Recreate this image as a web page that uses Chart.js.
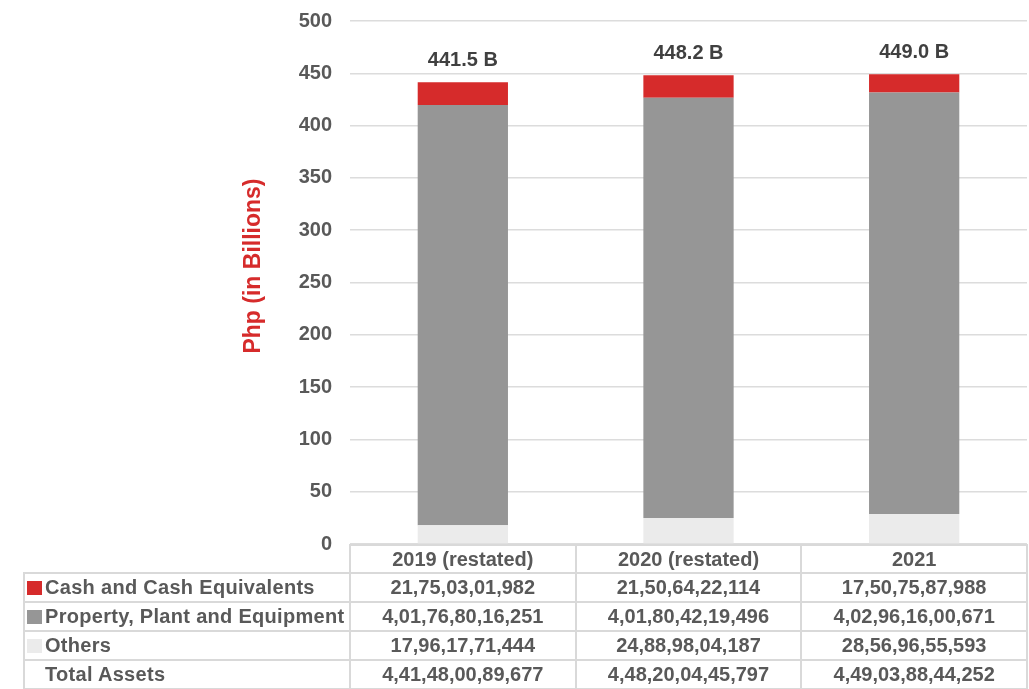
<!DOCTYPE html>
<html><head><meta charset="utf-8">
<script src="https://cdn.jsdelivr.net/npm/chart.js@4/dist/chart.umd.min.js"></script>
<style>
html,body{margin:0;padding:0;background:#fff;}
#wrap{position:relative;width:1029px;height:689px;overflow:hidden;font-family:"Liberation Sans",Arial,sans-serif;}
canvas{position:absolute;left:0;top:0;}
.ln{position:absolute;background:#d9d9d9;}
.cell{position:absolute;font-weight:bold;font-size:20px;color:#595959;white-space:nowrap;display:flex;align-items:center;box-sizing:border-box;}
.name{letter-spacing:0.3px;}
.key{display:inline-block;width:15px;height:14px;margin-right:3px;flex:none;}
</style></head><body>
<div id="wrap"><canvas id="c" width="1029" height="689"></canvas></div>
<script>
const categories = ['2019 (restated)', '2020 (restated)', '2021'];
const seriesNames = ['Cash and Cash Equivalents', 'Property, Plant and Equipment', 'Others'];
const cashValues = [21.7503, 21.5064, 17.5076];
const ppeValues = [401.7680, 401.8042, 402.9616];
const othersValues = [17.9618, 24.8898, 28.5697];
const cashLabels = ['21,75,03,01,982', '21,50,64,22,114', '17,50,75,87,988'];
const ppeLabels = ['4,01,76,80,16,251', '4,01,80,42,19,496', '4,02,96,16,00,671'];
const othersLabels = ['17,96,17,71,444', '24,88,98,04,187', '28,56,96,55,593'];
const totalName = 'Total Assets';
const totalLabels = ['4,41,48,00,89,677', '4,48,20,04,45,797', '4,49,03,88,44,252'];
const yMin = 0, yMax = 500, yStep = 50;
const yTitle = 'Php (in Billions)';

const colors = {cash: '#D62B2B', ppe: '#969696', others: '#EBEBEB'};
const FONT = '"Liberation Sans", Arial, sans-serif';

const totalLabelPlugin = {
  id: 'totalLabels',
  afterDatasetsDraw(chart) {
    const ctx = chart.ctx;
    const topMeta = chart.getDatasetMeta(chart.data.datasets.length - 1);
    ctx.save();
    ctx.font = 'bold 20px ' + FONT;
    ctx.fillStyle = '#404040';
    ctx.textAlign = 'center';
    ctx.textBaseline = 'middle';
    categories.forEach((c, i) => {
      const total = chart.data.datasets.reduce((s, d) => s + d.data[i], 0);
      const bar = topMeta.data[i];
      ctx.fillText(total.toFixed(1) + ' B', bar.x, bar.y - 22);
    });
    ctx.restore();
  }
};

const yTitlePlugin = {
  id: 'yTitle',
  afterDraw(chart) {
    const ctx = chart.ctx;
    ctx.save();
    ctx.translate(254, 266);
    ctx.rotate(-Math.PI / 2);
    ctx.font = 'bold 23px ' + FONT;
    ctx.fillStyle = '#D62B2B';
    ctx.textAlign = 'center';
    ctx.textBaseline = 'middle';
    ctx.fillText(yTitle, 0, 0);
    ctx.restore();
  }
};

const chart = new Chart(document.getElementById('c'), {
  type: 'bar',
  data: {
    labels: categories,
    datasets: [
      {label: seriesNames[2], data: othersValues, backgroundColor: colors.others},
      {label: seriesNames[1], data: ppeValues, backgroundColor: colors.ppe},
      {label: seriesNames[0], data: cashValues, backgroundColor: colors.cash}
    ]
  },
  options: {
    responsive: false,
    animation: false,
    devicePixelRatio: 1,
    layout: {padding: {left: 0, right: 2, top: 21, bottom: 145}},
    datasets: {bar: {barPercentage: 0.4, categoryPercentage: 1}},
    plugins: {legend: {display: false}, tooltip: {enabled: false}, title: {display: false}},
    scales: {
      x: {stacked: true, display: false},
      y: {
        stacked: true, min: yMin, max: yMax,
        afterFit(scale) { scale.width = 350; scale.paddingTop = 0; scale.paddingBottom = 0; },
        border: {display: false},
        grid: {color: '#dcdcdc', lineWidth: 1.5, drawTicks: false},
        ticks: {stepSize: yStep, padding: 18, color: '#595959', font: {family: FONT, size: 20, weight: 'bold'}}
      }
    }
  },
  plugins: [totalLabelPlugin, yTitlePlugin]
});

// Data table below the plot, aligned to the chart's category columns
(function buildTable() {
  const wrap = document.getElementById('wrap');
  const area = chart.chartArea;
  const left0 = 24;
  const colW = (area.right - area.left) / categories.length;
  const edges = [area.left];
  for (let i = 1; i <= categories.length; i++) edges.push(area.left + colW * i);
  const b = Math.round(area.bottom);
  const rowTops = [b + 1, b + 29, b + 58, b + 87, b + 116, b + 145];
  function line(x, y, w, h) {
    const d = document.createElement('div');
    d.className = 'ln';
    d.style.left = x + 'px'; d.style.top = y + 'px'; d.style.width = w + 'px'; d.style.height = h + 'px';
    wrap.appendChild(d);
  }
  line(area.left, rowTops[0] - 1, area.right - area.left, 2);
  for (let r = 1; r < rowTops.length; r++) line(left0, rowTops[r] - 1, area.right - left0, 2);
  line(left0 - 1, rowTops[1] - 1, 2, 689 - rowTops[1] + 1);
  edges.forEach(x => line(x - 1, rowTops[0] - 1, 2, 689 - rowTops[0] + 1));
  function cell(x, y, w, h, html, center) {
    const d = document.createElement('div');
    d.className = 'cell';
    d.style.left = x + 'px'; d.style.top = y + 'px'; d.style.width = w + 'px'; d.style.height = h + 'px';
    d.style.justifyContent = center ? 'center' : 'flex-start';
    if (!center) d.style.paddingLeft = '3px';
    d.innerHTML = html;
    wrap.appendChild(d);
  }
  categories.forEach((c, i) => cell(edges[i], rowTops[0], colW, rowTops[1] - rowTops[0], c, true));
  const rows = [
    {name: seriesNames[0], color: colors.cash, vals: cashLabels},
    {name: seriesNames[1], color: colors.ppe, vals: ppeLabels},
    {name: seriesNames[2], color: colors.others, vals: othersLabels},
    {name: totalName, color: null, vals: totalLabels}
  ];
  rows.forEach((row, r) => {
    const y = rowTops[r + 1], h = rowTops[r + 2] - rowTops[r + 1];
    const key = '<span class="key" style="background:' + (row.color || 'transparent') + '"></span>';
    cell(left0, y, edges[0] - left0, h, key + '<span class="name">' + row.name + '</span>', false);
    row.vals.forEach((v, i) => cell(edges[i], y, colW, h, v, true));
  });
})();
</script>
</body></html>
